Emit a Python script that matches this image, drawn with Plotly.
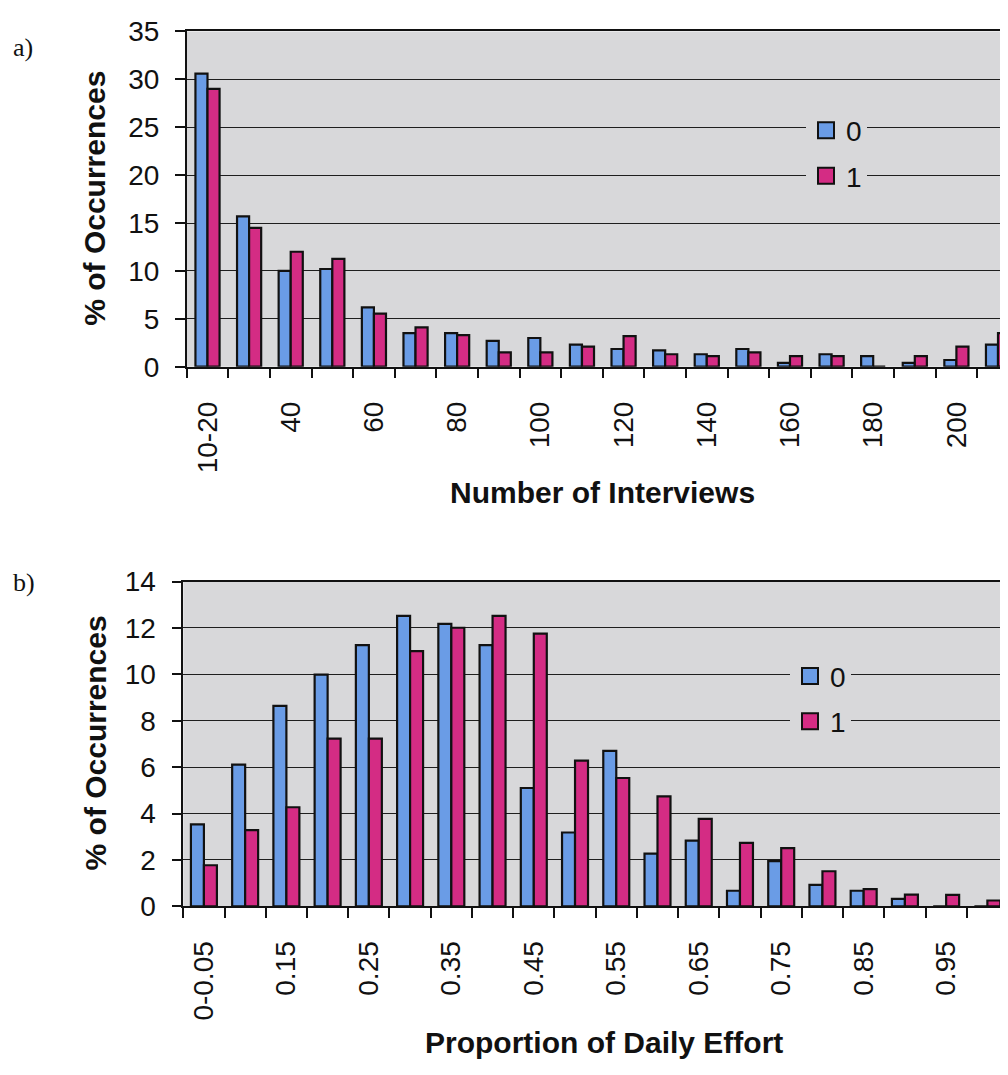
import plotly.graph_objects as go

# ---------------- data ----------------
top_labels = ["10-20", "30", "40", "50", "60", "70", "80", "90", "100", "110",
              "120", "130", "140", "150", "160", "170", "180", "190", "200", "210"]
top_s0 = [30.6, 15.7, 10.0, 10.2, 6.2, 3.5, 3.5, 2.7, 3.0, 2.3,
          1.85, 1.7, 1.3, 1.85, 0.4, 1.3, 1.1, 0.4, 0.7, 2.3]
top_s1 = [29.0, 14.5, 12.0, 11.25, 5.55, 4.1, 3.3, 1.5, 1.5, 2.1,
          3.2, 1.3, 1.1, 1.5, 1.1, 1.1, 0.0, 1.1, 2.1, 3.5]

bot_labels = ["0-0.05", "0.1", "0.15", "0.2", "0.25", "0.3", "0.35", "0.4", "0.45", "0.5",
              "0.55", "0.6", "0.65", "0.7", "0.75", "0.8", "0.85", "0.9", "0.95", "1"]
bot_s0 = [3.53, 6.11, 8.64, 9.99, 11.26, 12.52, 12.18, 11.26, 5.1, 3.18,
          6.7, 2.27, 2.83, 0.67, 1.95, 0.92, 0.67, 0.32, 0.0, 0.0]
bot_s1 = [1.77, 3.28, 4.27, 7.23, 7.23, 11.0, 12.01, 12.52, 11.76, 6.28,
          5.53, 4.74, 3.77, 2.73, 2.51, 1.51, 0.74, 0.5, 0.49, 0.25]

series_names = ["0", "1"]

# ---------------- style ----------------
BLUE = "#6A9CE6"
PINK = "#D42C84"
BG = "#D8D8DA"
EDGE = "#111111"
FONT = "Liberation Sans, Arial, sans-serif"
OFF = 8                      # default page body margin
W, H = 1008 - OFF, 1075 - OFF

fig = go.Figure()

top_x = list(range(len(top_labels)))
bot_x = list(range(len(bot_labels)))

bar_line = dict(color=EDGE, width=2.2)
# top panel bars
fig.add_trace(go.Bar(x=top_x, y=top_s0, width=0.29, offset=-0.29, marker=dict(color=BLUE, line=bar_line),
                     showlegend=False, xaxis="x", yaxis="y"))
fig.add_trace(go.Bar(x=top_x, y=top_s1, width=0.29, offset=0.0, marker=dict(color=PINK, line=bar_line),
                     showlegend=False, xaxis="x", yaxis="y"))
# bottom panel bars
fig.add_trace(go.Bar(x=bot_x, y=bot_s0, width=0.315, offset=-0.315, marker=dict(color=BLUE, line=bar_line),
                     showlegend=False, xaxis="x2", yaxis="y2"))
fig.add_trace(go.Bar(x=bot_x, y=bot_s1, width=0.315, offset=0.0, marker=dict(color=PINK, line=bar_line),
                     showlegend=False, xaxis="x2", yaxis="y2"))

# legend entries
for leg, xa, ya in (("legend", "x", "y"), ("legend2", "x2", "y2")):
    for name, col in zip(series_names, (BLUE, PINK)):
        fig.add_trace(go.Scatter(x=[None], y=[None], mode="markers", name=name,
                                 marker=dict(symbol="square", size=20, color=col, line=dict(color=EDGE, width=2)),
                                 legend=leg, legendgroup=leg + name, xaxis=xa, yaxis=ya))

def px_x(v):
    return (v - OFF) / W

def px_y(v):
    return 1 - (v - OFF) / H

axis_common = dict(showline=True, linecolor=EDGE, linewidth=1.5, zeroline=False,
                   tickfont=dict(family=FONT, size=28, color="#111"))

fig.update_layout(
    width=W, height=H,
    margin=dict(l=0, r=0, t=0, b=0),
    paper_bgcolor="white",
    plot_bgcolor=BG,
    barmode="overlay",
    xaxis=dict(domain=[px_x(186.7), 1.0], anchor="y", range=[-0.5, 19.24],
               tickmode="array", tickvals=top_x[::2], ticktext=top_labels[::2], tickangle=-90,
               ticks="", ticklabelstandoff=22, showgrid=False, mirror=True,
               minor=dict(ticks="outside", ticklen=10, tickcolor=EDGE, tickwidth=1.5, tick0=-0.5, dtick=1, showgrid=False),
               **axis_common),
    yaxis=dict(domain=[px_y(362), px_y(16.7)], anchor="x", range=[0, 35], dtick=5,
               ticks="outside", ticklen=10, tickcolor=EDGE, tickwidth=1.5, ticklabelstandoff=10,
               showgrid=True, gridcolor="#1e1e1e", gridwidth=1, **axis_common),
    xaxis2=dict(domain=[px_x(183.3), 1.0], anchor="y2", range=[-0.5, 19.5],
                tickmode="array", tickvals=bot_x[::2], ticktext=bot_labels[::2], tickangle=-90,
                ticks="", ticklabelstandoff=22, showgrid=False, mirror=True,
                minor=dict(ticks="outside", ticklen=10, tickcolor=EDGE, tickwidth=1.5, tick0=-0.5, dtick=1, showgrid=False),
                **axis_common),
    yaxis2=dict(domain=[px_y(917.7), px_y(583.3)], anchor="x2", range=[0, 14], dtick=2,
                ticks="outside", ticklen=10, tickcolor=EDGE, tickwidth=1.5, ticklabelstandoff=10,
                showgrid=True, gridcolor="#1e1e1e", gridwidth=1, **axis_common),
    legend=dict(x=px_x(806), y=px_y(93), xanchor="left", yanchor="top", bgcolor=BG, borderwidth=0,
                font=dict(family=FONT, size=28, color="#111"), traceorder="grouped", tracegroupgap=6),
    legend2=dict(x=px_x(790), y=px_y(655), xanchor="left", yanchor="top", bgcolor=BG, borderwidth=0,
                 font=dict(family=FONT, size=28, color="#111"), traceorder="grouped", tracegroupgap=6),
)

ann_font = dict(family=FONT, size=30, color="#111")
fig.add_annotation(text="<b>% of Occurrences</b>", x=px_x(95), y=px_y(189), xref="paper", yref="paper",
                   textangle=-90, showarrow=False, font=ann_font, xanchor="center", yanchor="middle")
fig.add_annotation(text="<b>% of Occurrences</b>", x=px_x(95), y=px_y(750), xref="paper", yref="paper",
                   textangle=-90, showarrow=False, font=ann_font, xanchor="center", yanchor="middle")
fig.add_annotation(text="<b>Number of Interviews</b>", x=px_x(602), y=px_y(492), xref="paper", yref="paper",
                   showarrow=False, font=ann_font, xanchor="center", yanchor="middle")
fig.add_annotation(text="<b>Proportion of Daily Effort</b>", x=px_x(604), y=px_y(1058), xref="paper", yref="paper",
                   showarrow=False, font=ann_font, xanchor="center", yanchor="middle")
panel_font = dict(family="Liberation Serif, Times New Roman, serif", size=26, color="#111")
fig.add_annotation(text="a)", x=px_x(11), y=px_y(33), xref="paper", yref="paper",
                   showarrow=False, font=panel_font, xanchor="left", yanchor="middle")
fig.add_annotation(text="b)", x=px_x(11), y=px_y(584), xref="paper", yref="paper",
                   showarrow=False, font=panel_font, xanchor="left", yanchor="middle")

fig.write_html("out.html")
